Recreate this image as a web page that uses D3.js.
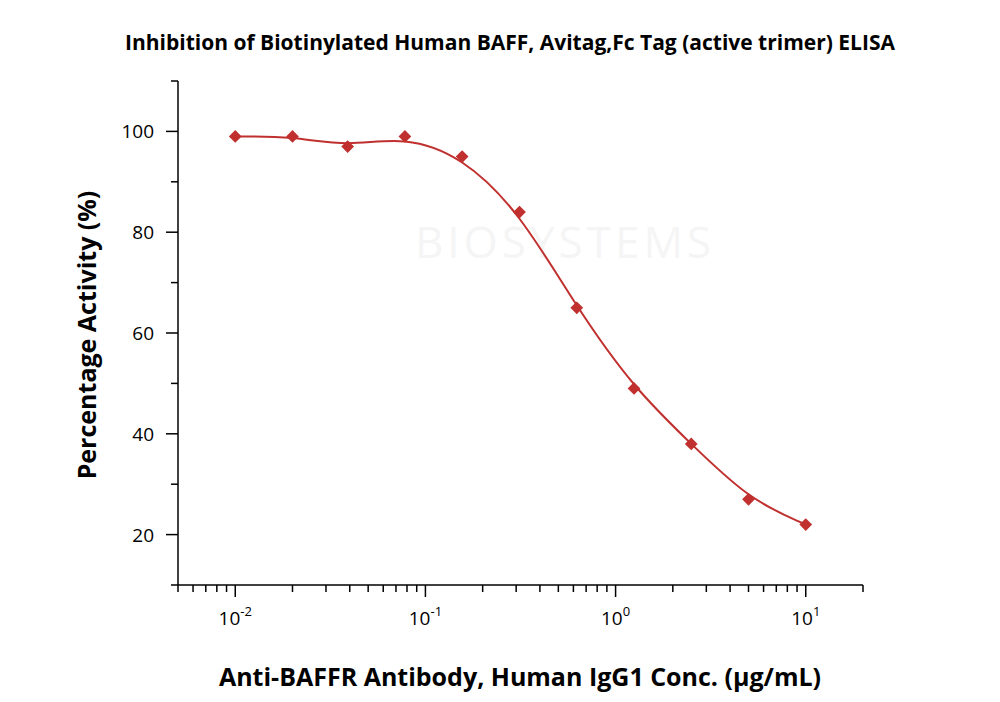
<!DOCTYPE html>
<html><head><meta charset="utf-8">
<script src="https://cdn.jsdelivr.net/npm/d3@7"></script>
<style>body{margin:0;background:#fff}text{font-family:"Open Sans",sans-serif}</style>
</head><body><svg id="c" width="1000" height="702"></svg>
<script>
// datos
const conc = [0.01, 0.02, 0.039, 0.078, 0.156, 0.3125, 0.625, 1.25, 2.5, 5, 10];
const actividad = [99, 99, 97, 99, 95, 84, 65, 49, 38, 27, 22];
const yTicks = [20, 40, 60, 80, 100];
const xTicks = [0.01, 0.1, 1, 10];
const supers = ["-2", "-1", "0", "1"];

const svg = d3.select("#c");
const x = d3.scaleLog().domain([0.005, 20]).range([178, 863]);
const y = d3.scaleLinear().domain([10, 110]).range([585, 81]);

// marca de agua
svg.append("text").attr("x", 565).attr("y", 258).attr("text-anchor", "middle")
  .attr("font-size", 44).attr("fill", "#f5f5f5").attr("letter-spacing", 4).text("BIOSYSTEMS");

// ejes
const minors = [];
for (let e = -3; e <= 1; e++) for (let m = 1; m <= 9; m++) {
  const v = m * Math.pow(10, e);
  if (v >= 0.005 && v <= 20) minors.push(v);
}
const gx = svg.append("g").attr("transform", "translate(0,585)");
gx.append("line").attr("x1", 178).attr("x2", 863).attr("stroke", "#000").attr("stroke-width", 1.5);
gx.selectAll("line.t").data(minors).enter().append("line")
  .attr("x1", d => x(d)).attr("x2", d => x(d)).attr("y1", 0)
  .attr("y2", d => xTicks.includes(d) ? 12 : 7).attr("stroke", "#000").attr("stroke-width", 1.5);
xTicks.forEach((d, i) => {
  const t = gx.append("text").attr("x", x(d)).attr("y", 40).attr("text-anchor", "middle").attr("font-size", 19);
  t.append("tspan").text("10");
  t.append("tspan").attr("dy", -9).attr("font-size", 13).text(supers[i]);
});

const gy = svg.append("g").attr("transform", "translate(178,0)");
gy.append("line").attr("y1", 81).attr("y2", 585).attr("stroke", "#000").attr("stroke-width", 1.5);
d3.range(10, 111, 10).forEach(v => {
  gy.append("line").attr("x1", 0).attr("x2", v % 20 === 0 ? -12 : -7)
    .attr("y1", y(v)).attr("y2", y(v)).attr("stroke", "#000").attr("stroke-width", 1.5);
});
gy.selectAll("text").data(yTicks).enter().append("text")
  .attr("x", -24).attr("y", d => y(d) + 7).attr("text-anchor", "end").attr("font-size", 19).text(d => d);

// curva
const pts = conc.map((c, i) => [x(c), y(actividad[i])]);
svg.append("path").attr("d", d3.line().curve(d3.curveBasis)([pts[0], ...pts, pts[pts.length - 1]]))
  .attr("fill", "none").attr("stroke", "#c0302e").attr("stroke-width", 2);
svg.selectAll("rect.p").data(pts).enter().append("rect")
  .attr("x", -4.5).attr("y", -4.5).attr("width", 9).attr("height", 9)
  .attr("transform", d => `translate(${d[0]},${d[1]}) rotate(45)`)
  .attr("fill", "#c0302e");

// títulos
svg.append("text").attr("x", 510).attr("y", 50).attr("text-anchor", "middle").attr("font-size", 21)
  .attr("font-weight", "bold").text("Inhibition of Biotinylated Human BAFF, Avitag,Fc Tag (active trimer) ELISA");
svg.append("text").attr("x", 520).attr("y", 686).attr("text-anchor", "middle").attr("font-size", 25)
  .attr("font-weight", "bold").text("Anti-BAFFR Antibody, Human IgG1 Conc. (μg/mL)");
svg.append("text").attr("transform", "translate(96,335) rotate(-90)").attr("text-anchor", "middle")
  .attr("font-size", 25).attr("font-weight", "bold").text("Percentage Activity (%)");
</script></body></html>
